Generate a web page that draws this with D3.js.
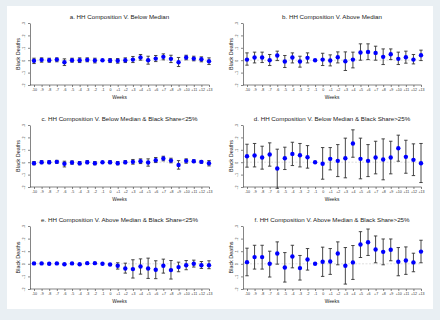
<!DOCTYPE html>
<html>
<head>
<meta charset="utf-8">
<script src="https://cdn.jsdelivr.net/npm/d3@7"></script>
<style>
  body { margin: 0; background: #e9eff3; }
  svg { display: block; font-family: "Liberation Sans", Arial, sans-serif; }
</style>
</head>
<body>
<div id="chart"></div>
<script>
// event-study weeks and y tick labels
const weeks = [-10,-9,-8,-7,-6,-5,-4,-3,-2,-1,0,1,2,3,4,5,6,7,8,9,10,11,12,13];
const yTicks = [-0.2, -0.1, 0, 0.1, 0.2, 0.3];
const yTickLabels = ['-.2', '-.1', '0', '.1', '.2', '.3'];

const titles = [
    'a. HH Composition V. Below Median',
    'b. HH Composition V. Above Median',
    'c. HH Composition V. Below Median & Black Share<25%',
    'd. HH Composition V. Below Median & Black Share>25%',
    'e. HH Composition V. Above Median & Black Share<25%',
    'f. HH Composition V. Above Median & Black Share>25%'
];

// point estimates and confidence bounds (week -1 is the reference)
const aEst = [-.005,.003,0,.005,-.016,0,0,.003,-.003,0,-.003,-.005,0,.005,.022,0,.013,.027,.011,-.016,.022,.013,.008,-.008];
const aHi  = [.016,.019,.016,.019,.011,.016,.019,.019,.016,null,.013,.013,.019,.030,.046,.032,.038,.051,.040,.022,.040,.032,.027,.019];
const aLo  = [-.027,-.016,-.016,-.013,-.043,-.016,-.019,-.013,-.022,null,-.019,-.024,-.019,-.019,0,-.032,-.011,.003,-.019,-.051,.003,-.005,-.013,-.035];

const bEst = [.005,.022,.022,0,.038,-.011,.022,-.011,.019,0,.005,-.003,.024,-.008,.005,.062,.067,.059,.027,.048,.011,.024,.005,.040];
const bHi  = [.059,.065,.065,.046,.073,.038,.059,.032,.059,null,.056,.043,.067,.067,.065,.132,.132,.113,.091,.091,.065,.073,.046,.081];
const bLo  = [-.040,-.022,-.019,-.043,-.003,-.059,-.022,-.056,-.022,null,-.043,-.046,-.022,-.083,-.062,0,.005,0,-.035,.005,-.035,-.024,-.030,-.003];

const cEst = [-.008,0,0,.003,-.013,-.003,-.008,0,-.008,0,0,-.008,0,.003,.008,-.003,.016,.030,.013,-.022,.011,.008,.003,-.008];
const cHi  = [.005,.012,.012,.015,.008,.010,.005,.012,.005,null,.012,.005,.012,.022,.027,.027,.038,.048,.032,.013,.027,.019,.014,.013];
const cLo  = [-.021,-.012,-.012,-.009,-.038,-.016,-.021,-.012,-.021,null,-.012,-.021,-.012,-.016,-.011,-.032,-.003,.011,-.005,-.056,-.008,-.003,-.008,-.030];

const dEst = [.048,.054,.038,.062,-.051,.032,.067,.056,.040,0,-.013,.027,.011,.032,.151,.027,.011,.038,.022,.038,.113,.043,.019,-.008];
const dHi  = [.145,.151,.129,.156,.105,.121,.161,.151,.134,null,.118,.118,.142,.194,.261,.194,.142,.169,.188,.169,.218,.177,.148,.151];
const dLo  = [-.040,-.038,-.056,-.032,-.210,-.059,-.027,-.038,-.048,null,-.137,-.062,-.116,-.126,.040,-.134,-.116,-.094,-.142,-.094,.008,-.089,-.108,-.164];

const eEst = [.003,.003,0,.003,-.003,.003,-.003,.005,.005,0,-.005,-.016,-.037,-.042,-.021,-.037,-.047,-.016,-.050,-.026,-.011,0,-.011,-.011];
const eHi  = [.008,.008,.005,.008,.002,.008,.002,.010,.010,null,0,.008,.005,.032,.039,.045,.024,.037,.026,.013,.026,.029,.018,.024];
const eLo  = [-.002,-.002,-.005,-.002,-.008,-.002,-.008,0,0,null,-.010,-.042,-.074,-.113,-.082,-.116,-.118,-.074,-.121,-.063,-.047,-.026,-.037,-.039];

const fEst = [.013,.053,.053,0,.082,-.029,.058,-.034,.034,0,.016,.018,.082,-.016,.011,.153,.171,.113,.095,.111,.016,.026,.011,.097];
const fHi  = [.124,.147,.147,.100,.174,.089,.147,.066,.121,null,.132,.121,.174,.129,.145,.255,.276,.221,.197,.197,.129,.134,.084,.187];
const fLo  = [-.095,-.042,-.042,-.105,-.003,-.145,-.032,-.129,-.050,null,-.100,-.084,-.008,-.161,-.124,.050,.066,.008,-.008,.024,-.095,-.084,-.063,.008];

const panelData = [
    [aEst, aLo, aHi], [bEst, bLo, bHi],
    [cEst, cLo, cHi], [dEst, dLo, dHi],
    [eEst, eLo, eHi], [fEst, fLo, fHi]
];

const width = 440;
const height = 320;

// panel geometry (left column / right column, three rows)
const axisX = [30, 243];
const xRanges = [[34, 209], [247, 421]];
const rowTop = [23, 125, 226];
const rowBottom = [85, 187, 289];

const svg = d3.select('#chart').append('svg')
    .attr('width', width)
    .attr('height', height);

svg.append('rect')
    .attr('x', 0).attr('y', 0)
    .attr('width', width).attr('height', height)
    .attr('fill', '#e9eff3');

svg.append('rect')
    .attr('x', 7).attr('y', 6)
    .attr('width', 426).attr('height', 303)
    .attr('fill', '#ffffff');

panelData.forEach((series, i) => {
    const col = i % 2;
    const row = Math.floor(i / 2);
    const [est, lo, hi] = series;

    const x = d3.scaleLinear()
        .domain([-10, 13])
        .range(xRanges[col]);

    const y = d3.scaleLinear()
        .domain([-0.2, 0.3])
        .range([rowBottom[row], rowTop[row]]);

    const g = svg.append('g');

    // title
    g.append('text')
        .attr('x', (axisX[col] + xRanges[col][1]) / 2)
        .attr('y', rowTop[row] - 4)
        .attr('text-anchor', 'middle')
        .style('font-size', '6.2px')
        .style('fill', '#222')
        .text(titles[i]);

    // zero reference line
    g.append('line')
        .attr('x1', axisX[col]).attr('x2', xRanges[col][1])
        .attr('y1', y(0)).attr('y2', y(0))
        .style('stroke', '#c8c8c8')
        .style('stroke-width', 0.6)
        .style('stroke-dasharray', '2,1.5');

    // y axis
    const yAxis = g.append('g')
        .attr('transform', 'translate(' + axisX[col] + ',0)')
        .call(d3.axisLeft(y)
            .tickValues(yTicks)
            .tickSize(2)
            .tickSizeOuter(0)
            .tickFormat((d, k) => yTickLabels[k]));
    yAxis.select('.domain').style('stroke', '#333').style('stroke-width', 0.6);
    yAxis.selectAll('.tick line').style('stroke', '#333').style('stroke-width', 0.6);
    yAxis.selectAll('.tick text')
        .attr('x', null).attr('dy', null)
        .attr('transform', 'translate(-5,0) rotate(-90)')
        .attr('text-anchor', 'middle')
        .style('font-size', '3.6px')
        .style('fill', '#333');

    // x axis
    const xAxis = g.append('g')
        .attr('transform', 'translate(0,' + rowBottom[row] + ')')
        .call(d3.axisBottom(x)
            .tickValues(weeks)
            .tickSize(2)
            .tickSizeOuter(0)
            .tickFormat(d => d > 0 ? '+' + d : String(d)));
    xAxis.select('.domain').remove();
    xAxis.append('line')
        .attr('x1', axisX[col]).attr('x2', xRanges[col][1] + 0.5)
        .style('stroke', '#333').style('stroke-width', 0.6);
    xAxis.selectAll('.tick line').style('stroke', '#333').style('stroke-width', 0.6);
    xAxis.selectAll('.tick text')
        .attr('y', 3.5)
        .style('font-size', '3.6px')
        .style('fill', '#333');

    // axis titles
    g.append('text')
        .attr('x', (axisX[col] + xRanges[col][1]) / 2)
        .attr('y', rowBottom[row] + 13.5)
        .attr('text-anchor', 'middle')
        .style('font-size', '4.8px')
        .style('fill', '#222')
        .text('Weeks');

    g.append('text')
        .attr('transform', 'translate(' + (axisX[col] - 10) + ',' + (rowTop[row] + rowBottom[row]) / 2 + ') rotate(-90)')
        .attr('text-anchor', 'middle')
        .style('font-size', '5.4px')
        .style('fill', '#222')
        .text('Black Deaths');

    // confidence intervals
    const bars = g.append('g');
    weeks.forEach((w, k) => {
        if (lo[k] === null) return;
        const cx = x(w);
        bars.append('line')
            .attr('x1', cx).attr('x2', cx)
            .attr('y1', y(lo[k])).attr('y2', y(hi[k]))
            .style('stroke', '#333').style('stroke-width', 0.9);
        [lo[k], hi[k]].forEach(v => {
            bars.append('line')
                .attr('x1', cx - 1.7).attr('x2', cx + 1.7)
                .attr('y1', y(v)).attr('y2', y(v))
                .style('stroke', '#333').style('stroke-width', 0.9);
        });
    });

    // point estimates
    g.selectAll('circle.est')
        .data(weeks)
        .enter().append('circle')
        .attr('class', 'est')
        .attr('cx', d => x(d))
        .attr('cy', (d, k) => y(est[k]))
        .attr('r', 2.2)
        .style('fill', '#0000ff');
});
</script>
</body>
</html>
